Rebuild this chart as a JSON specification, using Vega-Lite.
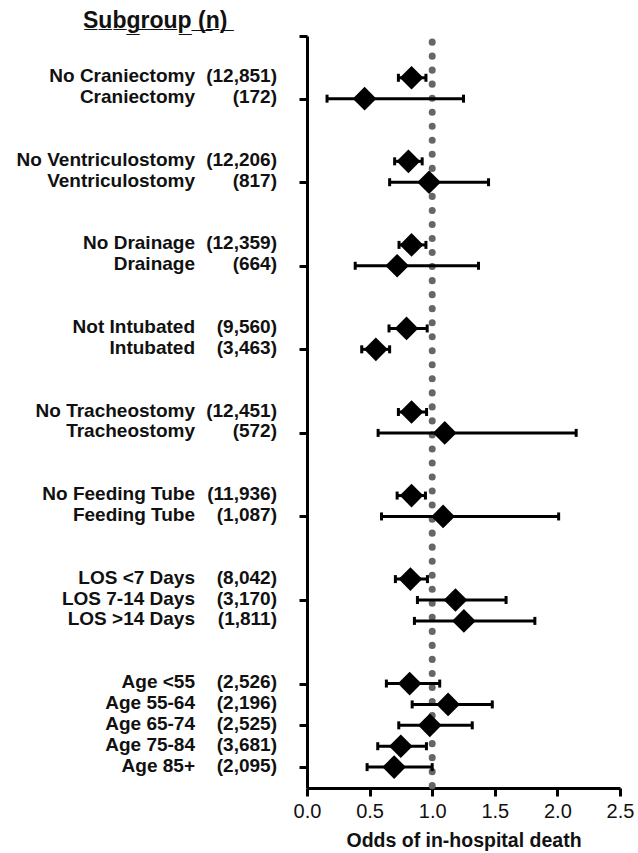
{
  "$schema": "https://vega.github.io/schema/vega-lite/v6.json",
  "padding": {"left": 5, "top": 9, "right": 5, "bottom": 5},
  "bounds": "flush",
  "spacing": 30,
  "title": {"text": "S̲u̲b̲g̲r̲o̲u̲p̲ ̲(̲n̲)̲", "anchor": "start", "dx": 78, "fontSize": 23, "fontWeight": "bold", "font": "Liberation Sans", "color": "#111", "offset": 0},
  "data": {"values": [
    {"subgroup": "No Craniectomy", "n": "(12,851)", "row": 0, "or": 0.835, "lo": 0.73, "hi": 0.95},
    {"subgroup": "Craniectomy", "n": "(172)", "row": 1, "or": 0.46, "lo": 0.16, "hi": 1.25},
    {"subgroup": "No Ventriculostomy", "n": "(12,206)", "row": 4, "or": 0.81, "lo": 0.70, "hi": 0.92},
    {"subgroup": "Ventriculostomy", "n": "(817)", "row": 5, "or": 0.975, "lo": 0.66, "hi": 1.45},
    {"subgroup": "No Drainage", "n": "(12,359)", "row": 8, "or": 0.835, "lo": 0.735, "hi": 0.95},
    {"subgroup": "Drainage", "n": "(664)", "row": 9, "or": 0.72, "lo": 0.385, "hi": 1.37},
    {"subgroup": "Not Intubated", "n": "(9,560)", "row": 12, "or": 0.795, "lo": 0.655, "hi": 0.96},
    {"subgroup": "Intubated", "n": "(3,463)", "row": 13, "or": 0.55, "lo": 0.437, "hi": 0.66},
    {"subgroup": "No Tracheostomy", "n": "(12,451)", "row": 16, "or": 0.835, "lo": 0.73, "hi": 0.955},
    {"subgroup": "Tracheostomy", "n": "(572)", "row": 17, "or": 1.10, "lo": 0.568, "hi": 2.15},
    {"subgroup": "No Feeding Tube", "n": "(11,936)", "row": 20, "or": 0.835, "lo": 0.72, "hi": 0.946},
    {"subgroup": "Feeding Tube", "n": "(1,087)", "row": 21, "or": 1.087, "lo": 0.595, "hi": 2.01},
    {"subgroup": "LOS <7 Days", "n": "(8,042)", "row": 24, "or": 0.826, "lo": 0.706, "hi": 0.962},
    {"subgroup": "LOS 7-14 Days", "n": "(3,170)", "row": 25, "or": 1.186, "lo": 0.882, "hi": 1.59},
    {"subgroup": "LOS >14 Days", "n": "(1,811)", "row": 26, "or": 1.253, "lo": 0.858, "hi": 1.82},
    {"subgroup": "Age <55", "n": "(2,526)", "row": 29, "or": 0.82, "lo": 0.634, "hi": 1.06},
    {"subgroup": "Age 55-64", "n": "(2,196)", "row": 30, "or": 1.127, "lo": 0.84, "hi": 1.48},
    {"subgroup": "Age 65-74", "n": "(2,525)", "row": 31, "or": 0.981, "lo": 0.733, "hi": 1.32},
    {"subgroup": "Age 75-84", "n": "(3,681)", "row": 32, "or": 0.749, "lo": 0.565, "hi": 0.954},
    {"subgroup": "Age 85+", "n": "(2,095)", "row": 33, "or": 0.696, "lo": 0.48, "hi": 1.0}
  ]},
  "hconcat": [
    {
      "width": 190, "height": 752,
      "mark": {"type": "text", "align": "right", "baseline": "middle", "fontSize": 19, "fontWeight": "bold", "font": "Liberation Sans", "color": "#111", "dy": -1.5},
      "encoding": {
        "y": {"field": "row", "type": "quantitative", "scale": {"domain": [-2, 34], "reverse": true, "nice": false, "zero": false}, "axis": null},
        "x": {"value": "width"},
        "text": {"field": "subgroup"}
      }
    },
    {
      "width": 52, "height": 752,
      "mark": {"type": "text", "align": "right", "baseline": "middle", "fontSize": 19, "fontWeight": "bold", "font": "Liberation Sans", "color": "#111", "dy": -1.5},
      "encoding": {
        "y": {"field": "row", "type": "quantitative", "scale": {"domain": [-2, 34], "reverse": true, "nice": false, "zero": false}, "axis": null},
        "x": {"value": "width"},
        "text": {"field": "n"}
      }
    },
    {
      "width": 313, "height": 752,
      "layer": [
        {
          "data": {"values": [{"ref": 1}]},
          "mark": {"type": "rule", "color": "#666666", "strokeWidth": 7, "strokeCap": "round", "strokeDash": [0.1, 13.93], "strokeDashOffset": 8},
          "encoding": {
            "x": {"field": "ref", "type": "quantitative", "scale": {"domain": [0, 2.5], "nice": false, "zero": false}}
          }
        },
        {
          "mark": {"type": "rule", "color": "black", "strokeWidth": 3},
          "encoding": {
            "x": {"field": "lo", "type": "quantitative", "scale": {"domain": [0, 2.5], "nice": false, "zero": false},
              "axis": {"values": [0, 0.5, 1, 1.5, 2, 2.5], "format": ".1f", "grid": false, "domainWidth": 3, "domainColor": "black", "tickWidth": 3, "tickSize": 8, "tickColor": "black", "labelFontSize": 20, "labelFont": "Liberation Sans", "labelColor": "#111", "labelPadding": 5, "labelFlush": false, "title": "Odds of in-hospital death", "titleFont": "Liberation Sans", "titleFontSize": 19.5, "titleFontWeight": "bold", "titleColor": "#111", "titlePadding": 10}},
            "x2": {"field": "hi"},
            "y": {"field": "row", "type": "quantitative", "scale": {"domain": [-2, 34], "reverse": true, "nice": false, "zero": false},
              "axis": {"values": [-2, 0, 1, 4, 5, 8, 9, 12, 13, 16, 17, 20, 21, 24, 25, 26, 29, 30, 31, 32, 33, 34], "labels": false, "title": null, "grid": false, "domainWidth": 3, "domainColor": "black", "tickWidth": 3, "tickSize": 8, "tickColor": "black"}}
          }
        },
        {
          "mark": {"type": "tick", "orient": "vertical", "color": "black", "thickness": 3, "size": 8, "opacity": 1},
          "encoding": {
            "x": {"field": "lo", "type": "quantitative"},
            "y": {"field": "row", "type": "quantitative"}
          }
        },
        {
          "mark": {"type": "tick", "orient": "vertical", "color": "black", "thickness": 3, "size": 8, "opacity": 1},
          "encoding": {
            "x": {"field": "hi", "type": "quantitative"},
            "y": {"field": "row", "type": "quantitative"}
          }
        },
        {
          "mark": {"type": "point", "shape": "diamond", "filled": true, "color": "black", "size": 560, "opacity": 1},
          "encoding": {
            "x": {"field": "or", "type": "quantitative"},
            "y": {"field": "row", "type": "quantitative"}
          }
        }
      ]
    }
  ],
  "config": {"view": {"stroke": null}, "font": "Liberation Sans"}
}
